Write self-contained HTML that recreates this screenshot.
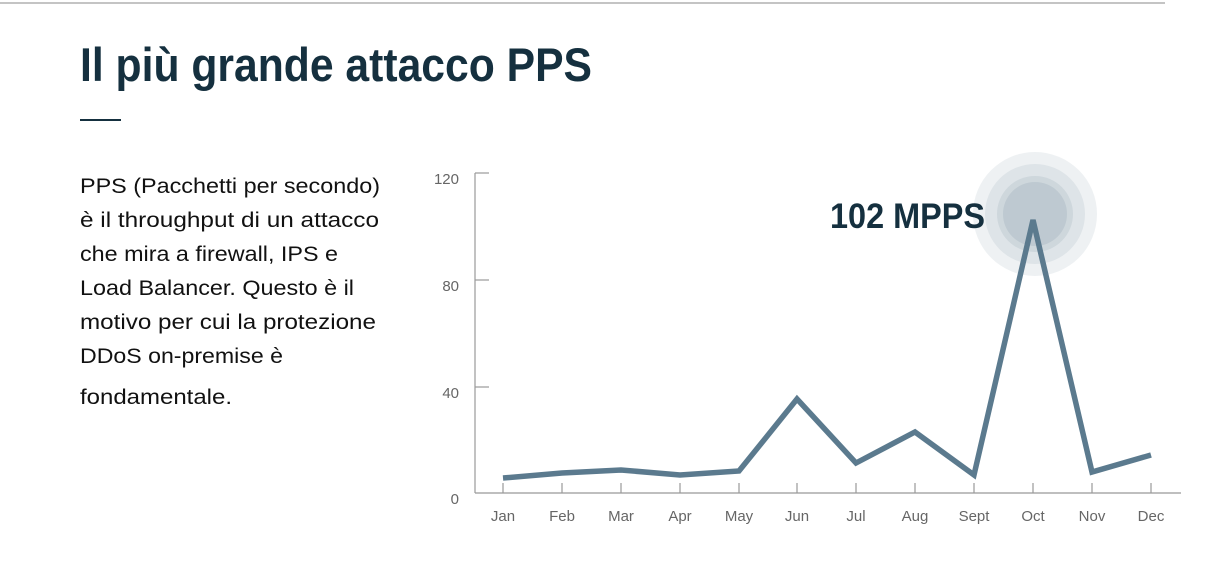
<!DOCTYPE html>
<html><head><meta charset="utf-8"><style>
html,body{margin:0;padding:0;background:#fff;width:1228px;height:584px;overflow:hidden}
svg{display:block}
text{font-family:"Liberation Sans Narrow","Liberation Sans",sans-serif}
</style></head><body>
<svg width="1228" height="584" viewBox="0 0 1228 584" xmlns="http://www.w3.org/2000/svg">
<line x1="0" y1="3" x2="1165" y2="3" stroke="#b0b0b0" stroke-width="1.5"/>
<text x="80" y="81" font-size="47" font-weight="bold" fill="#15303f" textLength="512" lengthAdjust="spacingAndGlyphs">Il più grande attacco PPS</text>
<line x1="80" y1="120" x2="121" y2="120" stroke="#15303f" stroke-width="2"/>
<g font-size="21" fill="#111">
<text x="80" y="193" textLength="300" lengthAdjust="spacingAndGlyphs">PPS (Pacchetti per secondo)</text>
<text x="80" y="227" textLength="299" lengthAdjust="spacingAndGlyphs">è il throughput di un attacco</text>
<text x="80" y="261" textLength="258" lengthAdjust="spacingAndGlyphs">che mira a firewall, IPS e</text>
<text x="80" y="295" textLength="274" lengthAdjust="spacingAndGlyphs">Load Balancer. Questo è il</text>
<text x="80" y="329" textLength="296" lengthAdjust="spacingAndGlyphs">motivo per cui la protezione</text>
<text x="80" y="363" textLength="203" lengthAdjust="spacingAndGlyphs">DDoS on-premise è</text>
<text x="80" y="404" textLength="152" lengthAdjust="spacingAndGlyphs">fondamentale.</text>
</g>
<g stroke="#999" stroke-width="1.2" fill="none">
<line x1="475" y1="173" x2="475" y2="493"/>
<line x1="475" y1="173" x2="489" y2="173"/>
<line x1="475" y1="280" x2="489" y2="280"/>
<line x1="475" y1="387" x2="489" y2="387"/>
<line x1="475" y1="493" x2="1181" y2="493"/>
<path d="M503 493v-10M562 493v-10M621 493v-10M680 493v-10M739 493v-10M797 493v-10M856 493v-10M915 493v-10M974 493v-10M1033 493v-10M1092 493v-10M1151 493v-10"/>
</g>
<g font-size="15" fill="#666" text-anchor="end">
<text x="459" y="184">120</text>
<text x="459" y="291">80</text>
<text x="459" y="398">40</text>
<text x="459" y="504">0</text>
</g>
<g font-size="15" fill="#666" text-anchor="middle">
<text x="503" y="521">Jan</text><text x="562" y="521">Feb</text><text x="621" y="521">Mar</text>
<text x="680" y="521">Apr</text><text x="739" y="521">May</text><text x="797" y="521">Jun</text>
<text x="856" y="521">Jul</text><text x="915" y="521">Aug</text><text x="974" y="521">Sept</text>
<text x="1033" y="521">Oct</text><text x="1092" y="521">Nov</text><text x="1151" y="521">Dec</text>
</g>
<g fill="#5b7a8e">
<circle cx="1035" cy="214" r="62" opacity="0.1"/>
<circle cx="1035" cy="214" r="50" opacity="0.1"/>
<circle cx="1035" cy="214" r="38" opacity="0.12"/>
<circle cx="1035" cy="214" r="32" opacity="0.14"/>
</g>
<polyline fill="none" stroke="#5b7a8e" stroke-width="5.5" stroke-linejoin="miter" points="503,478 562,473 621,470 680,475 739,471 797,399 856,463 915,432 974,475 1033,220 1092,472 1151,455"/>
<text x="830" y="228" font-size="35" font-weight="bold" fill="#15303f" textLength="155" lengthAdjust="spacingAndGlyphs">102 MPPS</text>
</svg>
</body></html>
